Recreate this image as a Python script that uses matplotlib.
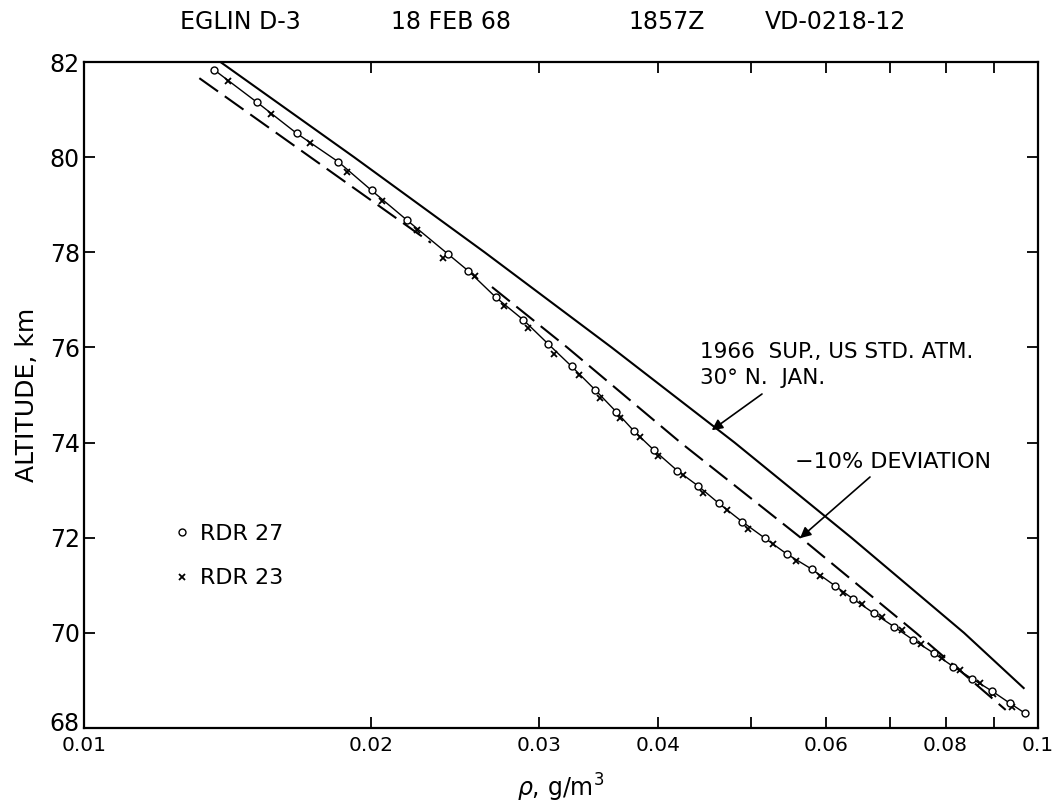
import matplotlib
matplotlib.use("Agg")
import matplotlib.pyplot as plt
from matplotlib.ticker import FixedLocator, NullFormatter, NullLocator
from matplotlib.transforms import ScaledTranslation

# 1966 Sup. US Std. Atm., 30 N Jan (solid)
std_alt = [82.0, 80.0, 78.0, 76.0, 74.0, 72.0, 70.0, 68.84]
std_rho = [0.01390, 0.01919, 0.02630, 0.03573, 0.04808, 0.06374, 0.08365, 0.0966]

# -10% deviation (dashed), drawn in two pieces
dev1_alt = [81.66, 80.0, 78.2]
dev1_rho = [0.01321, 0.01727, 0.0231]
dev2_alt = [77.27, 76.0, 74.0, 72.0, 70.0, 68.38]
dev2_rho = [0.02677, 0.0321, 0.0422, 0.0564, 0.0745, 0.0925]

# RDR 27 (circles)
r27_alt = [81.83, 81.15, 80.50, 79.90, 79.30, 78.68, 77.97, 77.61, 77.05, 76.58,
           76.07, 75.60, 75.11, 74.65, 74.24, 73.84, 73.41, 73.09, 72.72, 72.34,
           71.99, 71.66, 71.34, 70.99, 70.71, 70.41, 70.13, 69.85, 69.57, 69.29,
           69.04, 68.78, 68.52, 68.31]
r27_rho = [0.01370, 0.01519, 0.01671, 0.01848, 0.02002, 0.02179, 0.02405, 0.02528,
           0.02703, 0.02887, 0.03067, 0.03245, 0.03433, 0.03612, 0.03772, 0.03958,
           0.04187, 0.04402, 0.04630, 0.04894, 0.05173, 0.05452, 0.05791, 0.06126,
           0.06403, 0.06731, 0.07064, 0.07401, 0.07780, 0.08151, 0.08521, 0.08943,
           0.09346, 0.09692]

# RDR 23 (crosses)
r23_alt = [81.61, 80.91, 80.29, 79.69, 79.08, 78.47, 77.88, 77.50, 76.87, 76.40,
           75.86, 75.42, 74.93, 74.51, 74.12, 73.71, 73.31, 72.95, 72.58, 72.18,
           71.87, 71.52, 71.20, 70.84, 70.61, 70.34, 70.06, 69.77, 69.47, 69.22,
           68.94, 68.71, 68.44]
r23_rho = [0.01417, 0.01569, 0.01725, 0.01886, 0.02051, 0.02232, 0.02380, 0.02570,
           0.02756, 0.02922, 0.03109, 0.03305, 0.03474, 0.03646, 0.03826, 0.03992,
           0.04248, 0.04459, 0.04718, 0.04969, 0.05271, 0.05576, 0.05909, 0.06241,
           0.06539, 0.06857, 0.07196, 0.07535, 0.07926, 0.08283, 0.08694, 0.08977,
           0.09385]

xtick_vals = [0.01, 0.02, 0.03, 0.04, 0.06, 0.08, 0.1]
xtick_labels = ["0.01", "0.02", "0.03", "0.04", "0.06", "0.08", "0.1"]
xminor_vals = [0.05, 0.07, 0.09]
ytick_vals = [68, 70, 72, 74, 76, 78, 80, 82]

header = ["EGLIN D-3", "18 FEB 68", "1857Z", "VD-0218-12"]
header_x = [240, 451, 667, 835]

std_note = "1966  SUP., US STD. ATM.\n30° N.  JAN."
std_note_at = (0.0455, 74.26)
dev_note = "−10% DEVIATION"
dev_note_at = (0.0563, 71.99)


def main():
    plt.rcParams.update({
        "font.family": ["DejaVu Sans"],
        "font.size": 15,
        "mathtext.fontset": "dejavusans",
    })

    fig = plt.figure(figsize=(10.52, 8.11), dpi=100)
    ax = fig.add_axes([84 / 1052, 1 - 728 / 811, 954 / 1052, 666 / 811])

    ax.plot(std_rho, std_alt, "-", color="black", lw=1.5)
    ax.plot(dev1_rho, dev1_alt, color="black", lw=1.5, dashes=(11, 4))
    ax.plot(dev2_rho, dev2_alt, color="black", lw=1.5, dashes=(11, 4))
    ax.plot(r27_rho, r27_alt, "-", color="black", lw=1.0, zorder=3)
    ax.plot(r23_rho, r23_alt, "x", color="black", ms=4.5, mew=1.3,
            label="RDR 23", zorder=4)
    ax.plot(r27_rho, r27_alt, "o", color="black", mfc="white", mec="black",
            ms=5, mew=1.0, label="RDR 27", zorder=5)

    ax.set_xscale("log")

    ax.xaxis.set_major_locator(FixedLocator(xtick_vals))
    ax.set_xticklabels(xtick_labels)
    ax.xaxis.set_minor_locator(FixedLocator(xminor_vals))
    ax.xaxis.set_minor_formatter(NullFormatter())
    ax.yaxis.set_major_locator(FixedLocator(ytick_vals))
    ax.yaxis.set_minor_locator(NullLocator())

    ax.tick_params(which="both", direction="in", top=True, right=True,
                   length=8, width=1.3)
    ax.tick_params(axis="x", which="both", pad=6, labelsize=14.5)
    ax.tick_params(axis="y", pad=3, labelsize=17)
    for s in ax.spines.values():
        s.set_linewidth(1.6)

    ax.set_xlim(0.01, 0.1)
    ax.set_ylim(68, 82)
    # nudge the "68" up a few pixels so it clears the "0.01" below the corner
    lab68 = ax.yaxis.get_major_ticks()[0].label1
    lab68.set_transform(lab68.get_transform()
                        + ScaledTranslation(0, 5 / 72, fig.dpi_scale_trans))

    ax.set_xlabel(r"$\rho$, g/m$^3$", fontsize=17, labelpad=12)
    ax.set_ylabel("ALTITUDE, km", fontsize=18, labelpad=8)

    handles, labels = ax.get_legend_handles_labels()
    ax.legend(handles[::-1], labels[::-1], loc="center left",
              bbox_to_anchor=(0.093, 0.258), frameon=False, fontsize=16,
              handlelength=0.8, handletextpad=0.45, labelspacing=1.1,
              borderpad=0, borderaxespad=0)

    arrow = dict(arrowstyle="-|>", color="black", lw=1.2,
                 mutation_scale=16, shrinkA=0, shrinkB=0)

    fig.text(700 / 1052, 1 - 388 / 811, std_note, fontsize=15.5, ha="left",
             va="bottom", linespacing=1.4)
    ax.annotate("", xy=std_note_at, xytext=(762, 811 - 394),
                textcoords="figure pixels", arrowprops=arrow)

    fig.text(795 / 1052, 1 - 462 / 811, dev_note, fontsize=16, ha="left",
             va="center")
    ax.annotate("", xy=dev_note_at, xytext=(870, 811 - 477),
                textcoords="figure pixels", arrowprops=arrow)

    for txt, xp in zip(header, header_x):
        fig.text(xp / 1052, 1 - 29 / 811, txt, ha="center", va="baseline",
                 fontsize=17)

    fig.savefig("out.png", dpi=100)


if __name__ == "__main__":
    main()
